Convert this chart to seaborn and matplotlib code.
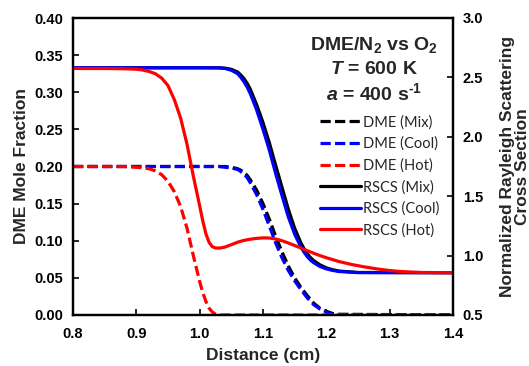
import numpy as np
import pandas as pd
import matplotlib
matplotlib.use("Agg")
import matplotlib.pyplot as plt
import seaborn as sns

sns.set_style("white")
plt.rcParams['font.family'] = ['Liberation Sans', 'DejaVu Sans']
plt.rcParams['mathtext.fontset'] = 'custom'
plt.rcParams['mathtext.rm'] = 'Liberation Sans:bold'
plt.rcParams['mathtext.it'] = 'Liberation Sans:bold:italic'
plt.rcParams['mathtext.bf'] = 'Liberation Sans:bold'

# ---- data ----
# DME mole fraction (left axis)
dme_cool_x = [0.80, 1.00, 1.03, 1.04, 1.05, 1.06, 1.065, 1.07, 1.075, 1.08, 1.09, 1.10, 1.11, 1.12,
              1.13, 1.14, 1.15, 1.16, 1.17, 1.18, 1.19, 1.20, 1.21, 1.22, 1.40]
dme_cool_y = [0.200, 0.200, 0.200, 0.199, 0.198, 0.196, 0.193, 0.190, 0.185, 0.178, 0.162, 0.142,
              0.120, 0.097, 0.077, 0.060, 0.046, 0.034, 0.023, 0.014, 0.008, 0.004, 0.001, 0.000, 0.000]
dme_mix_x = [0.80, 1.00, 1.03, 1.04, 1.05, 1.06, 1.065, 1.07, 1.075, 1.08, 1.09, 1.10, 1.11, 1.12,
             1.13, 1.14, 1.15, 1.16, 1.17, 1.18, 1.19, 1.20, 1.21, 1.22, 1.40]
dme_mix_y = [0.200, 0.200, 0.200, 0.200, 0.199, 0.197, 0.195, 0.192, 0.188, 0.182, 0.168, 0.150,
             0.129, 0.106, 0.085, 0.066, 0.050, 0.037, 0.026, 0.016, 0.009, 0.005, 0.002, 0.001, 0.000]
dme_hot_x = [0.80, 0.88, 0.90, 0.91, 0.92, 0.93, 0.94, 0.95, 0.96, 0.97, 0.98, 0.99, 1.00,
             1.005, 1.01, 1.015, 1.02, 1.025, 1.03, 1.40]
dme_hot_y = [0.200, 0.200, 0.199, 0.198, 0.197, 0.194, 0.189, 0.180, 0.166, 0.146, 0.117, 0.080, 0.045,
             0.030, 0.018, 0.009, 0.004, 0.001, 0.000, 0.000]

# Normalized Rayleigh scattering cross section (right axis)
rscs_cool_x = [0.80, 0.90, 1.00, 1.03, 1.04, 1.05, 1.06, 1.065, 1.07, 1.075, 1.08, 1.09, 1.10,
               1.11, 1.12, 1.13, 1.14, 1.15, 1.16, 1.165, 1.17, 1.175, 1.18, 1.19, 1.20, 1.21,
               1.22, 1.25, 1.40]
rscs_cool_y = [2.581, 2.581, 2.581, 2.580, 2.575, 2.560, 2.531, 2.500, 2.463, 2.418, 2.363, 2.225,
               2.063, 1.888, 1.690, 1.505, 1.325, 1.180, 1.070, 1.027, 0.990, 0.962, 0.940, 0.908,
               0.888, 0.875, 0.866, 0.857, 0.856]
rscs_mix_x = [0.80, 0.90, 1.00, 1.03, 1.04, 1.05, 1.06, 1.065, 1.07, 1.075, 1.08, 1.09, 1.10,
              1.11, 1.12, 1.13, 1.14, 1.15, 1.16, 1.165, 1.17, 1.175, 1.18, 1.19, 1.20, 1.21,
              1.22, 1.25, 1.40]
rscs_mix_y = [2.581, 2.581, 2.581, 2.581, 2.578, 2.568, 2.545, 2.520, 2.490, 2.450, 2.400, 2.270,
              2.120, 1.950, 1.760, 1.575, 1.390, 1.230, 1.105, 1.057, 1.015, 0.983, 0.958, 0.922,
              0.897, 0.881, 0.870, 0.858, 0.856]
rscs_hot_x = [0.80, 0.85, 0.88, 0.90, 0.91, 0.92, 0.93, 0.94, 0.95, 0.96, 0.97, 0.98, 0.99, 1.00,
              1.005, 1.01, 1.015, 1.02, 1.025, 1.03, 1.035, 1.04, 1.05, 1.06, 1.07, 1.08, 1.09,
              1.10, 1.11, 1.12, 1.13, 1.14, 1.15, 1.16, 1.17, 1.18, 1.19, 1.20, 1.22, 1.24,
              1.26, 1.28, 1.30, 1.32, 1.35, 1.40]
rscs_hot_y = [2.575, 2.575, 2.573, 2.569, 2.562, 2.550, 2.531, 2.494, 2.431, 2.313, 2.156, 1.938,
              1.669, 1.419, 1.290, 1.181, 1.110, 1.075, 1.064, 1.063, 1.066, 1.072, 1.092, 1.113,
              1.128, 1.138, 1.145, 1.149, 1.148, 1.140, 1.125, 1.106, 1.085, 1.063, 1.041, 1.020,
              1.000, 0.982, 0.950, 0.925, 0.905, 0.888, 0.874, 0.865, 0.858, 0.856]

labels = ["DME (Mix)", "DME (Cool)", "DME (Hot)", "RSCS (Mix)", "RSCS (Cool)", "RSCS (Hot)"]
colors = ["#000000", "#0000FF", "#FF0000"]

W, H = 529, 366
fig = plt.figure(figsize=(W / 100, H / 100), dpi=100)
ax = fig.add_axes([73 / W, 1 - 315 / H, (453 - 73) / W, (315 - 18) / H])
ax2 = ax.twinx()

lw = 2.3
dash = (3.2, 1.35)
handles = []
for (xs, ys), c, lab in zip([(dme_mix_x, dme_mix_y), (dme_cool_x, dme_cool_y), (dme_hot_x, dme_hot_y)],
                            colors, labels[:3]):
    df = pd.DataFrame({"x": xs, "y": ys})
    sns.lineplot(data=df, x="x", y="y", ax=ax, color=c, lw=lw, legend=False)
    ln = ax.lines[-1]
    ln.set_dashes(dash)
    ln.set_label(lab)
    handles.append(ln)

for (xs, ys), c, lab in zip([(rscs_mix_x, rscs_mix_y), (rscs_cool_x, rscs_cool_y), (rscs_hot_x, rscs_hot_y)],
                            colors, labels[3:]):
    df = pd.DataFrame({"x": xs, "y": ys})
    sns.lineplot(data=df, x="x", y="y", ax=ax2, color=c, lw=lw, legend=False)
    ln = ax2.lines[-1]
    ln.set_label(lab)
    ln.set_solid_joinstyle("round")
    handles.append(ln)

ax.set_xlim(0.8, 1.4)
ax.set_ylim(0, 0.4)
ax2.set_ylim(0.5, 3.0)
xt = np.arange(0.8, 1.41, 0.1)
ax.set_xticks(xt)
ax.set_xticklabels([f"{v:.1f}" for v in xt])
yt = np.arange(0, 0.401, 0.05)
ax.set_yticks(yt)
ax.set_yticklabels([f"{v:.2f}" for v in yt])
y2t = np.arange(0.5, 3.01, 0.5)
ax2.set_yticks(y2t)
ax2.set_yticklabels([f"{v:.1f}" for v in y2t])

tick_fs = 10.5
for a in (ax, ax2):
    a.tick_params(direction="in", length=4, width=1.2, labelsize=tick_fs, colors="black", pad=7)
    for lbl in a.get_xticklabels() + a.get_yticklabels():
        lbl.set_fontweight("bold")
    for s in a.spines.values():
        s.set_color("black")
        s.set_linewidth(1.6)
ax.tick_params(axis="x", pad=9)
ax.tick_params(axis="both", which="both", bottom=True, left=True)
ax2.tick_params(axis="y", right=True)

ax.set_xlabel("Distance (cm)", fontsize=12.5, fontweight="bold", labelpad=5)
ax.set_ylabel("DME Mole Fraction", fontsize=12.5, fontweight="bold", labelpad=4)
ax2.set_ylabel("Normalized Rayleigh Scattering\nCross Section", fontsize=12.5,
               fontweight="bold", labelpad=12, linespacing=1.0)

tfs = 14
fig.text(374 / W, 1 - 45 / H, r"DME/N$_2$ vs O$_2$", ha="center", va="center",
         fontsize=tfs, fontweight="bold")
fig.text(374 / W, 1 - 69 / H, r"$T$ = 600 K", ha="center", va="center",
         fontsize=tfs, fontweight="bold")
fig.text(374 / W, 1 - 93 / H, r"$a$ = 400 s$^{\text{-1}}$", ha="center", va="center",
         fontsize=tfs, fontweight="bold")

leg = ax2.legend(handles=handles, labels=labels, loc="upper left",
                 bbox_to_anchor=((320 - 73) / (453 - 73), 1 - (115 - 18) / (315 - 18)),
                 frameon=False, handlelength=2.8, handletextpad=0.15,
                 labelspacing=0.5, borderaxespad=0, borderpad=0,
                 prop={"family": ["Lato", "DejaVu Sans"], "size": 10.5})

fig.savefig("out.png", dpi=100)
